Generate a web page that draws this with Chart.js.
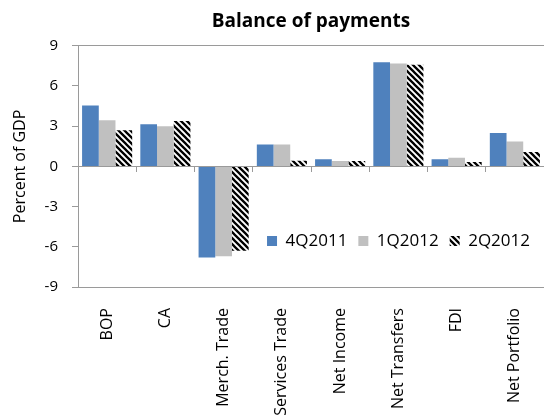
<!DOCTYPE html>
<html>
<head>
<meta charset="utf-8">
<script src="https://cdn.jsdelivr.net/npm/chart.js@4.4.1/dist/chart.umd.min.js"></script>
<style>
  html, body { margin: 0; padding: 0; background: #ffffff; }
  canvas { display: block; }
</style>
</head>
<body>
<canvas id="chart" width="544" height="417"></canvas>
<script>
// Balance of payments components, percent of GDP
const categories = ['BOP', 'CA', 'Merch. Trade', 'Services Trade', 'Net Income', 'Net Transfers', 'FDI', 'Net Portfolio'];
const seriesNames = ['4Q2011', '1Q2012', '2Q2012'];
const q4_2011 = [4.55, 3.15, -6.80, 1.63, 0.53, 7.78, 0.53, 2.50];
const q1_2012 = [3.45, 3.00, -6.70, 1.63, 0.40, 7.68, 0.65, 1.85];
const q2_2012 = [2.70, 3.38, -6.30, 0.43, 0.40, 7.58, 0.33, 1.07];
const yTickValues = [-9, -6, -3, 0, 3, 6, 9];

const FONT = "'Open Sans', 'Noto Sans', sans-serif";
const AXIS_GREY = '#9a9a9a';

const canvas = document.getElementById('chart');
const ctx = canvas.getContext('2d');

// black/white diagonal stripes for the third series
function makeHatch() {
  const s = 6;
  const tile = document.createElement('canvas');
  tile.width = s; tile.height = s;
  const g = tile.getContext('2d');
  g.fillStyle = '#ffffff';
  g.fillRect(0, 0, s, s);
  g.strokeStyle = '#000000';
  g.lineWidth = 2.3;
  g.beginPath();
  for (const o of [-s, 0, s]) {
    g.moveTo(o - 1, -1);
    g.lineTo(o + s + 1, s + 1);
  }
  g.stroke();
  return ctx.createPattern(tile, 'repeat');
}
const hatch = makeHatch();

// the legend reserves (almost) no space; this puts its row inside the plot, under the zero line
const legendInside = {
  id: 'legendInside',
  afterLayout(chart) {
    const lg = chart.legend;
    if (!lg) return;
    const area = chart.chartArea;
    const pad = lg.options.labels.padding;
    const fs = lg.options.labels.font.size;
    const centerY = area.bottom - 46;
    lg.top = centerY - pad - fs / 2;
    lg.bottom = lg.top + fs + 2 * pad + 6;
    lg.height = lg.bottom - lg.top;
    lg.left = area.left;
    lg.right = area.right - 3;
    lg.width = lg.right - lg.left;
  }
};

new Chart(ctx, {
  type: 'bar',
  data: {
    labels: categories,
    datasets: [
      { label: seriesNames[0], data: q4_2011, backgroundColor: '#4f81bd', xAxisID: 'x' },
      { label: seriesNames[1], data: q1_2012, backgroundColor: '#c0c0c0', xAxisID: 'x' },
      { label: seriesNames[2], data: q2_2012, backgroundColor: hatch, xAxisID: 'x' }
    ]
  },
  options: {
    responsive: false,
    animation: false,
    layout: { padding: { left: 0, right: 0, top: 0, bottom: 0 } },
    datasets: {
      bar: { categoryPercentage: 0.86, barPercentage: 1.0, borderWidth: 0 }
    },
    scales: {
      y: {
        min: -9,
        max: 9,
        afterBuildTicks: (scale) => { scale.ticks = yTickValues.map(v => ({ value: v })); },
        afterFit: (scale) => { scale.width = 78; },
        border: { display: true, color: AXIS_GREY, width: 1 },
        grid: {
          display: true,
          drawTicks: true,
          tickLength: 6,
          tickColor: AXIS_GREY,
          color: (c) => (c.tick && Math.abs(c.tick.value) === 9) ? AXIS_GREY : 'rgba(0,0,0,0)'
        },
        ticks: {
          padding: 14,
          color: '#000000',
          font: { family: FONT, size: 15 }
        },
        title: {
          display: true,
          text: 'Percent of GDP',
          color: '#000000',
          padding: { top: 11, bottom: 0 },
          font: { family: FONT, size: 16 }
        }
      },
      x: {
        position: 'bottom',
        offset: true,
        afterFit: (scale) => {
          const lg = scale.chart.legend;
          scale.height = 130 - (lg && lg.height ? lg.height : 1);
          // the plot runs to the right edge of the canvas
          scale.paddingLeft = 0;
          scale.paddingRight = 0;
        },
        border: { display: false },
        grid: { display: false, drawTicks: false, offset: true },
        ticks: {
          autoSkip: false,
          minRotation: 90,
          maxRotation: 90,
          padding: 21,
          color: '#000000',
          font: { family: FONT, size: 16 }
        }
      },
      // zero line with category separators
      xZero: {
        type: 'category',
        labels: categories,
        position: { y: 0 },
        offset: true,
        border: { display: true, color: AXIS_GREY, width: 1 },
        grid: {
          offset: true,
          drawOnChartArea: false,
          drawTicks: true,
          tickLength: 5,
          color: AXIS_GREY
        },
        ticks: { display: false }
      }
    },
    plugins: {
      title: {
        display: true,
        text: 'Balance of payments',
        fullSize: false,
        color: '#000000',
        padding: { top: 10, bottom: 13 },
        font: { family: FONT, size: 19, weight: 'bold' }
      },
      legend: {
        position: 'bottom',
        align: 'end',
        maxHeight: 1,
        labels: {
          boxWidth: 10,
          boxHeight: 10,
          padding: 11,
          color: '#000000',
          font: { family: FONT, size: 17 }
        }
      },
      tooltip: { enabled: false }
    }
  },
  plugins: [legendInside]
});
</script>
</body>
</html>
